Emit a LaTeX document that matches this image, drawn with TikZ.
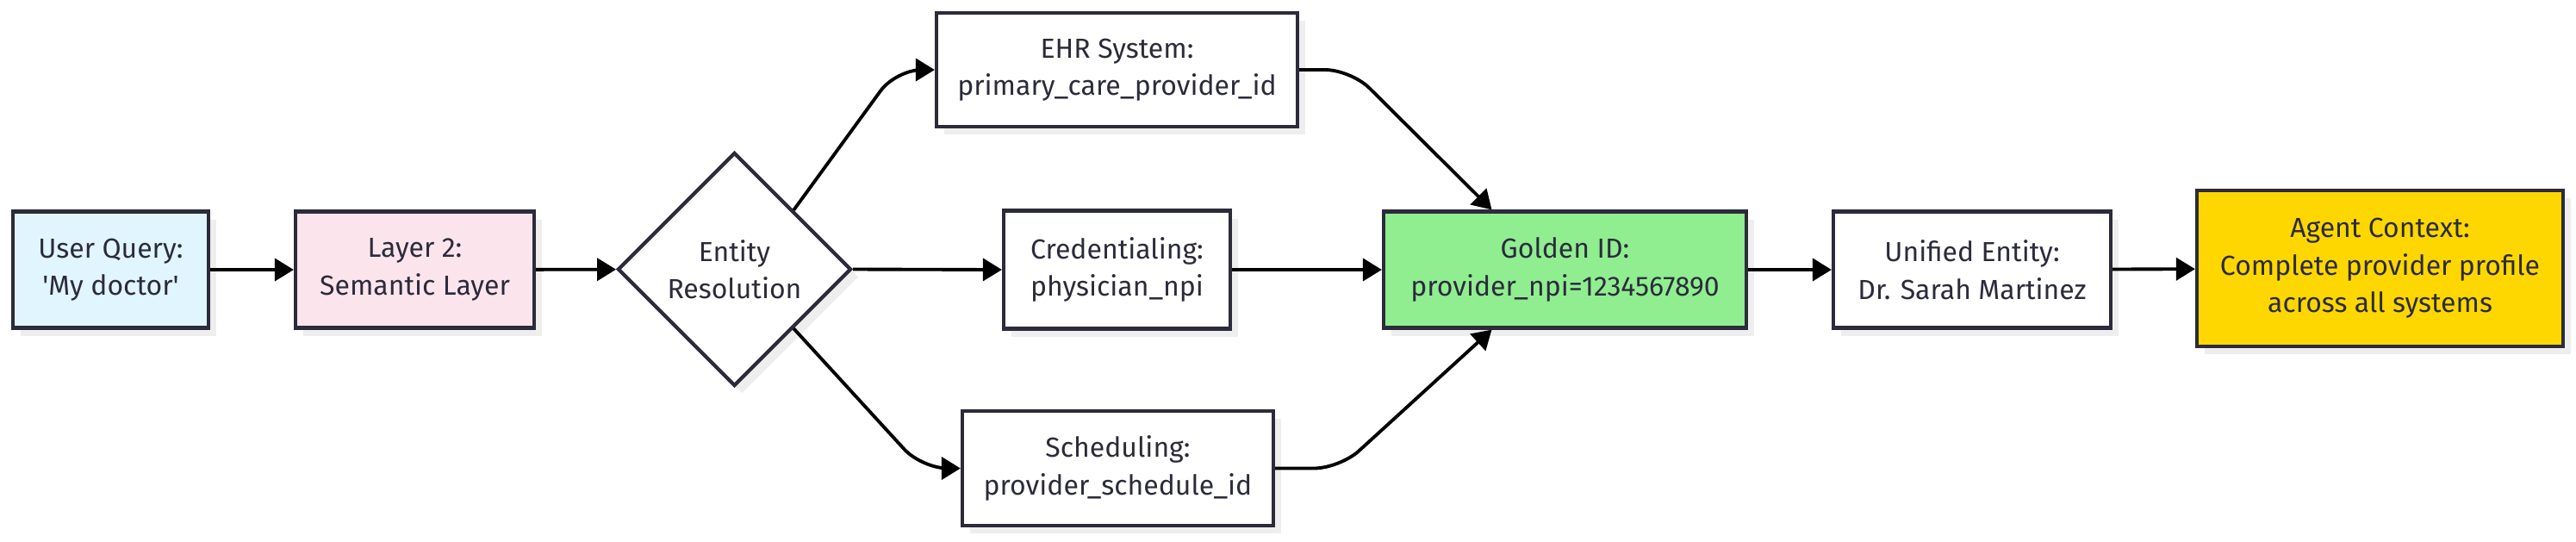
\documentclass[tikz,border=0pt]{standalone}
\usepackage{fontspec}
\setmainfont{Fira Sans}
\setsansfont{Fira Sans}
\usetikzlibrary{arrows.meta, positioning, shapes.geometric, calc, shadows}
\definecolor{cink}{HTML}{2B2B3B}
\definecolor{ctext}{HTML}{2B2B3B}
\definecolor{cquery}{HTML}{E1F5FE}
\definecolor{clayer}{HTML}{FCE4EC}
\definecolor{cgolden}{HTML}{90EE90}
\definecolor{cagent}{HTML}{FFD700}
\definecolor{cshadow}{HTML}{EEEEEE}
\tikzset{
  every picture/.style={font=\sffamily\fontsize{9.1}{12.4}\selectfont, line width=1.2pt},
  shade box/.style={drop shadow={shadow xshift=0.09cm, shadow yshift=-0.09cm, fill=cshadow, opacity=1}},
  box/.style={draw=cink, fill=#1, text=ctext, align=center, inner sep=4pt, minimum height=1.35cm, shade box},
  box/.default=white,
  arrow/.style={-{Triangle[length=0.22cm, width=0.26cm]}, draw=black, line width=1.1pt},
}

\begin{document}
\begin{tikzpicture}[
  decision/.style={diamond, draw=cink, fill=white, text=ctext, align=center, inner sep=0pt, minimum width=2.71cm, minimum height=2.71cm, shade box},
]
  \useasboundingbox (0,0) rectangle (29.9,-6.28);

  \node[box=cquery, minimum width=2.27cm] (uq) at (1.285,-3.13) {User Query:\\ \textquotesingle My doctor\textquotesingle};
  \node[box=clayer, minimum width=2.77cm] (l2) at (4.815,-3.13) {Layer 2:\\ Semantic Layer};
  \node[decision] (er) at (8.525,-3.125) {Entity\\ Resolution};

  \node[box, minimum width=4.19cm, minimum height=1.32cm] (ehr) at (12.965,-0.81) {EHR System:\\ primary\_care\_provider\_id};
  \node[box, minimum width=2.63cm, minimum height=1.37cm] (cred) at (12.965,-3.13) {Credentialing:\\ physician\_npi};
  \node[box, minimum width=3.61cm, minimum height=1.33cm] (sch) at (12.975,-5.435) {Scheduling:\\ provider\_schedule\_id};

  \node[box=cgolden, minimum width=4.21cm] (gid) at (18.165,-3.13) {Golden ID:\\ provider\_npi=1234567890};
  \node[box, minimum width=3.22cm] (ue) at (22.89,-3.13) {Unified Entity:\\ Dr. Sarah Martinez};
  \node[box=cagent, minimum width=4.25cm, minimum height=1.81cm] (ac) at (27.625,-3.115) {Agent Context:\\ Complete provider profile\\ across all systems};

  \draw[arrow] (uq) -- (l2);
  \draw[arrow] (l2) -- (er);
  \draw[arrow, rounded corners=0.3cm] ($(er.north)!0.5!(er.east)$) -- ([xshift=-0.45cm]ehr.west) -- (ehr.west);
  \draw[arrow] (er.east) -- (cred.west);
  \draw[arrow, rounded corners=0.3cm] ($(er.south)!0.5!(er.east)$) -- ([xshift=-0.45cm]sch.west) -- (sch.west);
  \draw[arrow, rounded corners=0.3cm] (ehr.east) -- ([xshift=0.6cm]ehr.east) -- ([xshift=-0.85cm]gid.north);
  \draw[arrow] (cred) -- (gid);
  \draw[arrow, rounded corners=0.3cm] (sch.east) -- ([xshift=0.75cm]sch.east) -- ([xshift=-0.85cm]gid.south);
  \draw[arrow] (gid) -- (ue);
  \draw[arrow] (ue) -- (ac);
\end{tikzpicture}
\end{document}
